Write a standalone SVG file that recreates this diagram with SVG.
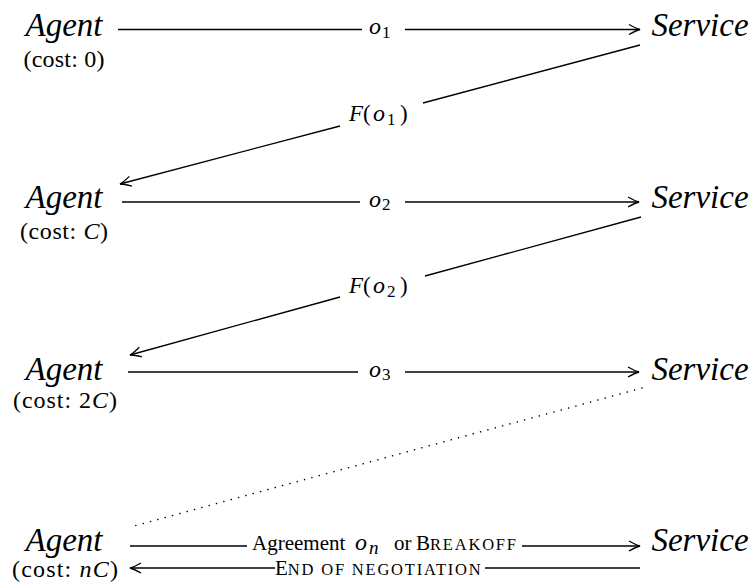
<svg xmlns="http://www.w3.org/2000/svg" width="753" height="584" viewBox="0 0 753 584">
<style>
text{font-family:'Liberation Serif','Times New Roman',serif;fill:#000}
.node{font-style:italic;font-size:33px}
.cost{font-size:24px}
.rm{font-size:21px}
.mi{font-style:italic;font-size:24px}
.mf{font-style:italic;font-size:23px}
.par{font-size:23px}
.sub{font-size:17px}
.sc{font-size:16.5px;letter-spacing:1.8px}
.ln{stroke:#000;stroke-width:1.3;fill:none}
.dot{stroke:#000;stroke-width:1.5;fill:none;stroke-dasharray:0.1 7.5;stroke-linecap:round}
</style>
<defs>
<marker id="ah" markerUnits="userSpaceOnUse" markerWidth="16" markerHeight="14" viewBox="-13 -7 16 14" refX="0" refY="0" orient="auto">
<path d="M-11,-5 Q-4,-1 0,0 Q-4,1 -11,5" stroke="#000" stroke-width="1.3" fill="none"/>
</marker>
</defs>
<g id="agent1"><text class="node" x="64" y="36" text-anchor="middle">Agent</text><text class="cost" x="64" y="67" text-anchor="middle" textLength="81" lengthAdjust="spacing">(cost: 0)</text></g>
<g id="agent2"><text class="node" x="64" y="208" text-anchor="middle">Agent</text><text class="cost" x="64" y="239" text-anchor="middle" textLength="88" lengthAdjust="spacing">(cost: <tspan font-style="italic">C</tspan>)</text></g>
<g id="agent3"><text class="node" x="64" y="380" text-anchor="middle">Agent</text><text class="cost" x="65" y="408" text-anchor="middle" textLength="104" lengthAdjust="spacing">(cost: 2<tspan font-style="italic">C</tspan>)</text></g>
<g id="agent4"><text class="node" x="64" y="551" text-anchor="middle">Agent</text><text class="cost" x="65" y="577" text-anchor="middle" textLength="106" lengthAdjust="spacing">(cost: <tspan font-style="italic">nC</tspan>)</text></g>
<g id="service1"><text class="node" x="700" y="36" text-anchor="middle">Service</text></g>
<g id="service2"><text class="node" x="700" y="208" text-anchor="middle">Service</text></g>
<g id="service3"><text class="node" x="700" y="380" text-anchor="middle">Service</text></g>
<g id="service4"><text class="node" x="700" y="551" text-anchor="middle">Service</text></g>
<g id="connectors">
<path class="ln" d="M118,29.5 H362"/>
<path class="ln" d="M405,29.5 H640" marker-end="url(#ah)"/>
<text x="369" y="34"><tspan class="mi">o</tspan><tspan class="sub" x="382" y="37.5">1</tspan></text>
<path class="ln" d="M640,45 L423,103"/>
<text x="349" y="121"><tspan class="mf">F</tspan><tspan class="par" x="363">(</tspan><tspan class="mi" x="373">o</tspan><tspan class="sub" x="387" y="124.5">1</tspan><tspan class="par" x="400" y="121">)</tspan></text>
<path class="ln" d="M340,126 L120,184" marker-end="url(#ah)"/>

<path class="ln" d="M122,202 H360"/>
<path class="ln" d="M405,202 H639" marker-end="url(#ah)"/>
<text x="369" y="206.5"><tspan class="mi">o</tspan><tspan class="sub" x="382" y="210">2</tspan></text>
<path class="ln" d="M641,217 L425,276"/>
<text x="349" y="293"><tspan class="mf">F</tspan><tspan class="par" x="363">(</tspan><tspan class="mi" x="373">o</tspan><tspan class="sub" x="387" y="296.5">2</tspan><tspan class="par" x="400" y="293">)</tspan></text>
<path class="ln" d="M340,297 L130,355" marker-end="url(#ah)"/>

<path class="ln" d="M128,372 H358"/>
<path class="ln" d="M405,372 H639" marker-end="url(#ah)"/>
<text x="369" y="376.5"><tspan class="mi">o</tspan><tspan class="sub" x="382" y="380">3</tspan></text>
<path class="dot" d="M642,388 L130,527"/>

<path class="ln" d="M130,546 H247"/>
<text x="252" y="550"><tspan class="rm">Agreement</tspan><tspan class="mi" x="355">o</tspan><tspan font-style="italic" font-size="19" x="369" y="553.5">n</tspan><tspan class="rm" x="394" y="550">or</tspan><tspan class="rm" x="416">B</tspan><tspan class="sc">REAKOFF</tspan></text>
<path class="ln" d="M522,546 H640" marker-end="url(#ah)"/>
<path class="ln" d="M275,568 H130" marker-end="url(#ah)"/>
<text x="275" y="575"><tspan class="rm">E</tspan><tspan class="sc">ND OF NEGOTIATION</tspan></text>
<path class="ln" d="M485,568 H640"/>
</g>
</svg>
